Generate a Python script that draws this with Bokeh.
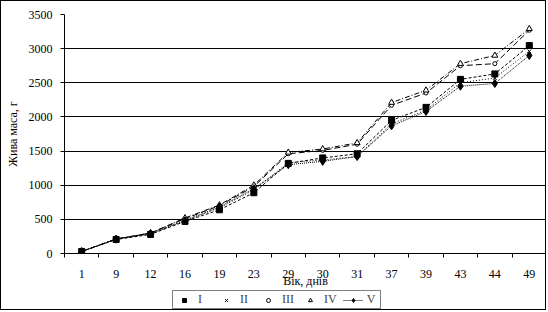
from bokeh.plotting import figure
from bokeh.models import FixedTicker, Legend, LegendItem, ColumnDataSource
from bokeh.layouts import column
from bokeh.embed import file_html
from bokeh.resources import INLINE

days = ["1", "9", "12", "16", "19", "23", "29", "30", "31", "37", "39", "43", "44", "49"]
s1 = [30, 205, 280, 470, 640, 890, 1320, 1400, 1460, 1950, 2140, 2550, 2630, 3045]
s2 = [30, 210, 290, 490, 670, 930, 1330, 1370, 1420, 1900, 2100, 2500, 2570, 2960]
s3 = [30, 210, 300, 510, 700, 980, 1460, 1510, 1600, 2170, 2350, 2750, 2780, 3270]
s4 = [30, 215, 300, 520, 710, 1000, 1480, 1530, 1620, 2210, 2390, 2780, 2900, 3290]
s5 = [30, 210, 290, 480, 680, 950, 1300, 1350, 1420, 1870, 2080, 2450, 2490, 2900]
names = ["I", "II", "III", "IV", "V"]
y_ticks = [0, 500, 1000, 1500, 2000, 2500, 3000, 3500]

FONT = "Liberation Serif"
xs = list(range(1, len(days) + 1))

p = figure(width=546, height=290, output_backend="svg", toolbar_location=None,
           x_range=(0.5, len(days) + 0.5), y_range=(0, 3500),
           min_border_left=63, min_border_right=1, min_border_top=13, min_border_bottom=38)
p.styles = {"border-top": "1px solid black", "border-left": "1px solid black",
            "border-right": "1px solid black"}
p.outline_line_color = None
p.background_fill_color = "white"
p.border_fill_color = "white"

# axes
p.xaxis.ticker = FixedTicker(ticks=xs, minor_ticks=[x - 0.5 for x in xs] + [len(days) + 0.5])
p.xaxis.major_label_overrides = {x: d for x, d in zip(xs, days)}
p.xaxis.major_tick_line_color = None
p.xaxis.minor_tick_line_color = "black"
p.xaxis.minor_tick_out = 4
p.xaxis.minor_tick_in = 0
p.xaxis.major_label_standoff = 10
p.xaxis.axis_label = "Вік, днів"
p.xaxis.axis_label_standoff = -7
p.yaxis.ticker = FixedTicker(ticks=y_ticks)
p.yaxis.minor_tick_line_color = None
p.yaxis.major_tick_out = 4
p.yaxis.major_tick_in = 0
p.yaxis.major_label_standoff = 8
p.yaxis.axis_label = "Жива маса, г"
p.yaxis.axis_label_standoff = 6
for ax in (p.xaxis, p.yaxis):
    ax.axis_line_color = "black"
    ax.major_label_text_font = FONT
    ax.major_label_text_font_size = "12px"
    ax.major_label_text_color = "black"
    ax.axis_label_text_font = FONT
    ax.axis_label_text_font_size = "12px"
    ax.axis_label_text_font_style = "normal"
    ax.axis_label_text_color = "black"

p.xgrid.grid_line_color = None
p.ygrid.ticker = FixedTicker(ticks=y_ticks[1:-1])
p.ygrid.grid_line_color = "black"
p.ygrid.grid_line_alpha = 1.0

src = ColumnDataSource(dict(x=xs, s1=s1, s2=s2, s3=s3, s4=s4, s5=s5))

dashes = ["3 2", "1 2", "6 3", "5 2 1 2", "1 1"]
markers = [
    dict(marker="square", size=6, fill_color="black"),
    dict(marker="x", size=5, fill_color=None),
    dict(marker="circle", size=4, fill_color="white"),
    dict(marker="triangle", size=6, fill_color="white"),
    dict(marker="diamond", size=8, fill_color="black"),
]
cols = ["s1", "s2", "s3", "s4", "s5"]
for i, col in enumerate(cols):
    p.line("x", col, source=src, line_color="black", line_width=1, line_dash=dashes[i])
    p.scatter("x", col, source=src, line_color="black", line_width=1, **markers[i])

# legend strip below the chart (its glyphs sit outside the visible range)
lg = figure(width=546, height=20, output_backend="svg", toolbar_location=None,
            x_axis_type=None, y_axis_type=None, x_range=(-100, -99), y_range=(0, 3500),
            min_border_left=0, min_border_right=0, min_border_top=0, min_border_bottom=0)
lg.styles = {"border-bottom": "1px solid black", "border-left": "1px solid black",
             "border-right": "1px solid black"}
lg.outline_line_color = None
lg.grid.visible = False
items = []
for i, (col, nm) in enumerate(zip(cols, names)):
    ln = lg.line("x", col, source=src, line_color="black", line_width=1, line_dash=dashes[i])
    mk = lg.scatter("x", col, source=src, line_color="black", line_width=1, **markers[i])
    items.append(LegendItem(label=nm, renderers=[ln, mk] if i == 4 else [mk]))

legend = Legend(items=items, orientation="horizontal", location=(108, 1),
                label_text_font=FONT, label_text_font_size="12px",
                border_line_color="black", border_line_width=1,
                glyph_width=20, glyph_height=10, label_height=10, label_width=12,
                label_standoff=4, spacing=6, padding=1, margin=0)
lg.add_layout(legend, "center")

layout = column(p, lg, spacing=0)

open("out.html", "w").write(file_html(layout, INLINE))
